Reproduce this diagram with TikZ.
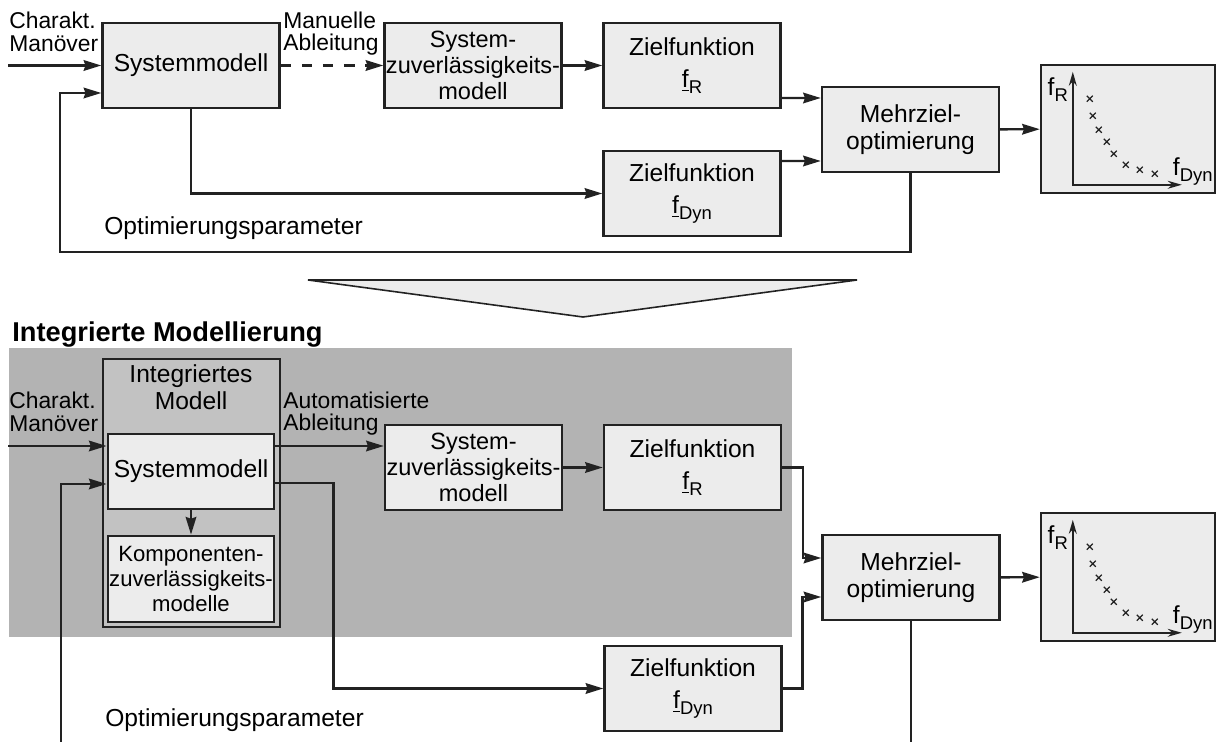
\documentclass[tikz,border=0pt]{standalone}
\usepackage{fontspec}
\setmainfont{Liberation Sans}
\usetikzlibrary{arrows.meta,calc}
\definecolor{boxgray}{HTML}{ECECEC}
\definecolor{areagray}{HTML}{B3B3B3}
\definecolor{modgray}{HTML}{C2C2C2}
\definecolor{linegray}{HTML}{222222}
\newcommand{\boxfont}{\fontsize{14}{15.2}\selectfont}
\newcommand{\lblfont}{\fontsize{13}{13}\selectfont}
\newcommand{\lowtext}[1]{\raisebox{-3.2pt}{\fontsize{10.5}{10.5}\selectfont #1}}

\begin{document}
\begin{tikzpicture}[
      x=0.02cm, y=-0.02cm,
      blk/.style={draw=linegray, line width=1.4pt, fill=boxgray, align=center, font=\boxfont, inner sep=1pt, minimum width=3.54cm, minimum height=1.7cm},
      relblk/.style={blk, inner sep=0pt, font=\fontsize{13.4}{14.6}\selectfont},
      plotbox/.style={draw=linegray, line width=1.4pt, fill=boxgray, minimum width=3.48cm, minimum height=2.56cm},
      lbl/.style={align=left, font=\lblfont, inner sep=0pt},
      arr/.style={-{Stealth[length=10pt, width=6pt, inset=1pt]}, line width=1.4pt, linegray},
      ln/.style={line width=1.4pt, linegray},
      ax/.style={{Stealth[length=8pt, width=4.5pt]}-{Stealth[length=8pt, width=4.5pt]}, line width=1.1pt, linegray},
      xmark/.style={line width=0.7pt, linegray}
  ]
      \useasboundingbox (0,0) rectangle (1217,742);

      % Oben: manuelle Ableitung
      \node[blk] (sys1) at (191,65.5) {Systemmodell};
      \node[relblk] (rel1) at (473,65.5) {System-\\zuverlässigkeits-\\modell};
      \node[blk] (fr1) at (692,65.5) {Zielfunktion\\[3pt]\underline{f}\lowtext{R}};
      \node[blk] (fdyn1) at (692,193.5) {Zielfunktion\\[3pt]\underline{f}\lowtext{Dyn}};
      \node[blk] (moo1) at (910.5,129.5) {Mehrziel-\\optimierung};
      \node[plotbox] (plot1) at (1128,129) {};
      \coordinate (in1) at (8,65.5);
      \coordinate (fb1) at (60,252);

      \node[lbl, anchor=south west] (char1) at (9,52) {Charakt.\\Manöver};
      \node[lbl, anchor=south west] (man1) at (283,56) {Manuelle\\Ableitung};
      \node[lbl, anchor=west, font=\boxfont] (opt1) at (104,228) {Optimierungsparameter};

      \draw[arr] (in1) -- (sys1.west);
      \draw[arr, dash pattern=on 6pt off 6pt] (sys1) -- (rel1);
      \draw[arr] (rel1) -- (fr1);
      \draw[arr] (sys1.south) |- (fdyn1.west);
      \draw[arr] ($(fr1.east)+(0,32.5)$) -- ($(moo1.west)+(0,-31.5)$);
      \draw[arr] ($(fdyn1.east)+(0,-32.5)$) -- ($(moo1.west)+(0,31.5)$);
      \draw[arr] (moo1) -- (plot1);
      \draw[arr] (moo1.south) |- (fb1) |- ($(sys1.west)+(0,27.5)$);

      % Uebergang
      \draw[line width=0.9pt, linegray, fill=boxgray] (308,280) -- (857,280) -- (583,317) -- cycle;

      % Unten: integrierte Modellierung
      \node[anchor=base west, inner sep=0pt, font=\fontsize{15.5}{17}\selectfont\bfseries] (title) at (12,342) {Integrierte Modellierung};
      \fill[areagray] (9,348) rectangle (792,637);

      \node[blk, fill=modgray, minimum width=3.54cm, minimum height=5.36cm] (intm) at (191.5,493) {};
      \node[font=\boxfont, align=center, inner sep=0pt] (intmtxt) at (191,387) {Integriertes\\Modell};
      \node[blk, line width=1.6pt, minimum width=3.32cm, minimum height=1.5cm] (sys2) at (191,471.5) {Systemmodell};
      \node[blk, line width=1.6pt, inner sep=0pt, minimum width=3.32cm, minimum height=1.72cm, font=\fontsize{12.6}{14.2}\selectfont] (komp) at (191,579) {Komponenten-\\zuverlässigkeits-\\modelle};
      \node[relblk] (rel2) at (473.5,467.5) {System-\\zuverlässigkeits-\\modell};
      \node[blk] (fr2) at (692.5,467.5) {Zielfunktion\\[3pt]\underline{f}\lowtext{R}};
      \node[blk] (fdyn2) at (693,688.5) {Zielfunktion\\[3pt]\underline{f}\lowtext{Dyn}};
      \node[blk] (moo2) at (911,577.5) {Mehrziel-\\optimierung};
      \node[plotbox] (plot2) at (1128,577) {};
      \coordinate (in2) at (8,446);
      \coordinate (fb2l) at (61,742);
      \coordinate (fb2r) at (911,742);

      \node[lbl, anchor=south west] (char2) at (9,432) {Charakt.\\Manöver};
      \node[lbl, anchor=south west] (auto2) at (283,436) {Automatisierte\\Ableitung};
      \node[lbl, anchor=west, font=\boxfont] (opt2) at (105,720) {Optimierungsparameter};

      \draw[arr] (in2) -- ($(sys2.west)+(0,-25.5)$);
      \draw[arr] ($(sys2.east)+(0,-25.5)$) -- ($(rel2.west)+(0,-21.5)$);
      \draw[arr] (sys2) -- (komp);
      \draw[arr] (rel2) -- (fr2);
      \draw[arr] ($(sys2.east)+(0,11.5)$) -- ++(58,0) |- (fdyn2.west);
      \draw[arr] (fr2.east) -- ++(21,0) |- ($(moo2.west)+(0,-19.5)$);
      \draw[arr] (fdyn2.east) -- ++(20,0) |- ($(moo2.west)+(0,19.5)$);
      \draw[arr] (moo2) -- (plot2);
      \draw[ln] (moo2.south) -- (fb2r);
      \draw[arr] (fb2l) |- ($(sys2.west)+(0,12.5)$);

      % Pareto-Diagramme
      \foreach \p in {plot1,plot2}{
          \draw[ax] ($(\p.north west)+(142,121)$) -| ($(\p.north west)+(33,8)$);
          \node[font=\boxfont, inner sep=0pt] (\p-y) at ($(\p.north west)+(18,26)$) {f\lowtext{R}};
          \node[font=\boxfont, inner sep=0pt] (\p-x) at ($(\p.north west)+(153,108)$) {f\lowtext{Dyn}};
          \foreach \cx/\cy in {50/35, 53/52, 59/66, 67/78, 74/90, 86/101, 100/106, 115/110}
              \draw[xmark] ($(\p.north west)+(\cx,\cy)+(-3,-3)$) -- ++(6,6) ++(-6,0) -- ++(6,-6);
      }

  \end{tikzpicture}
\end{document}
